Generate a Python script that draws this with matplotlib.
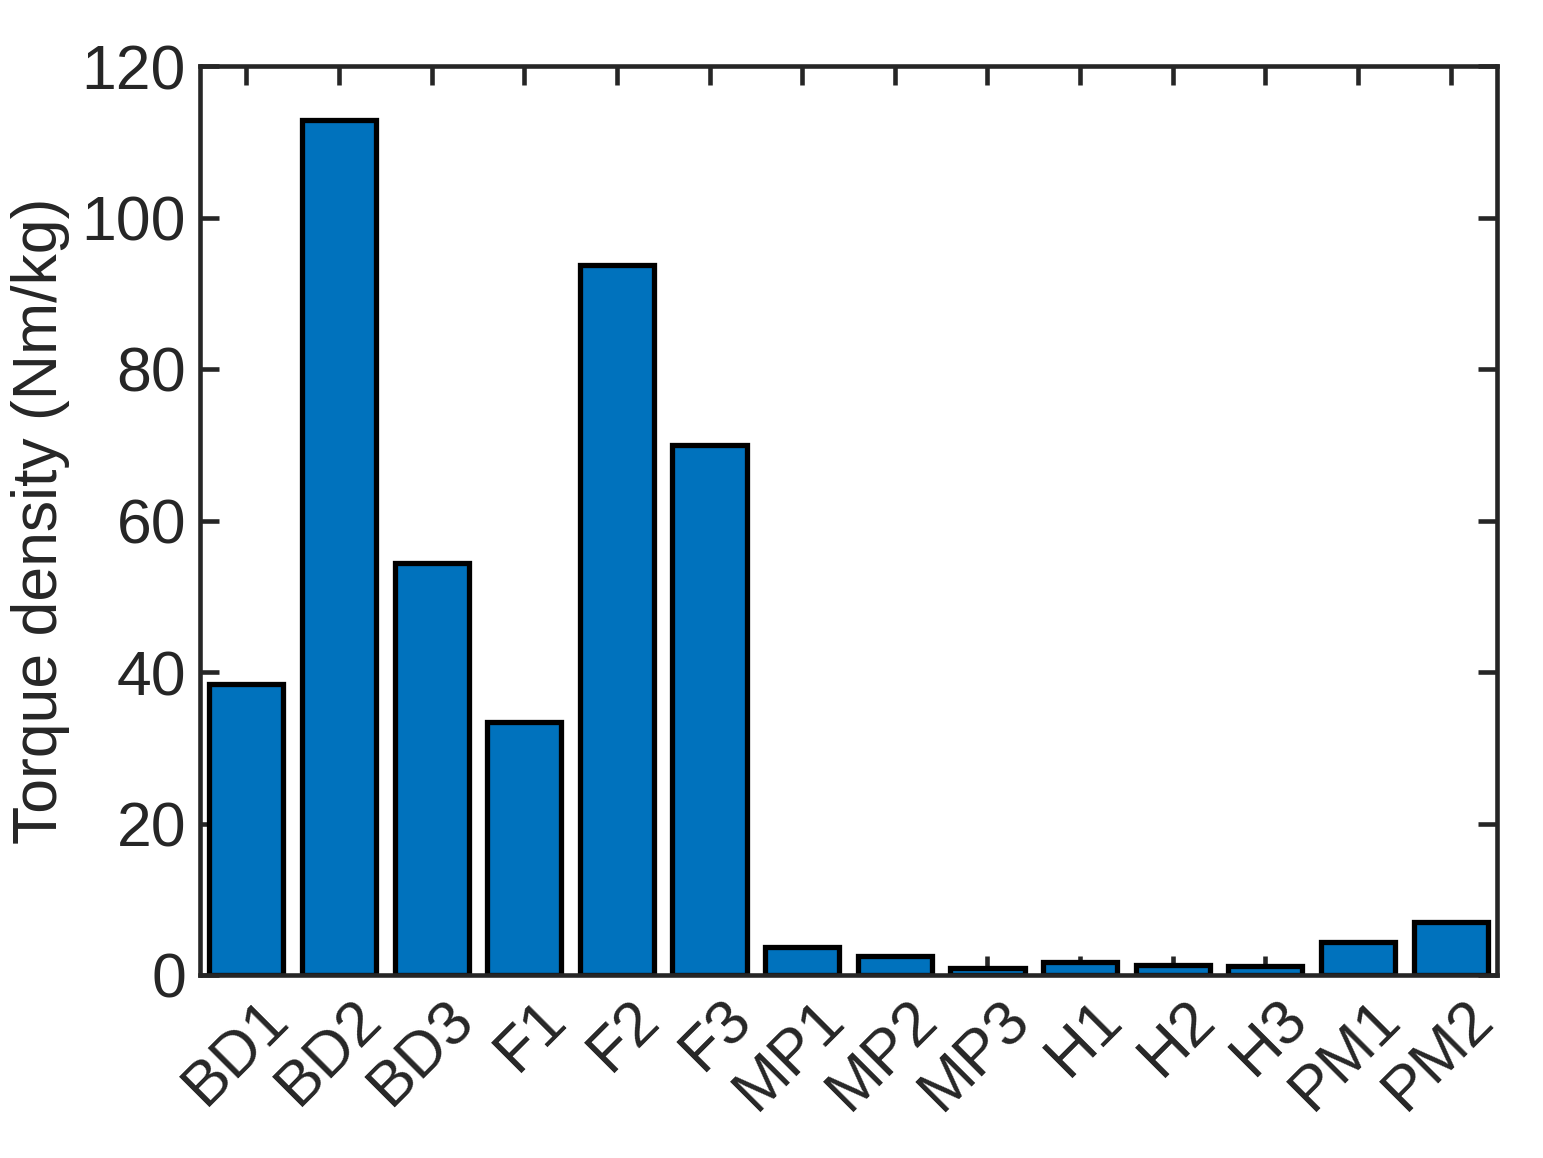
import matplotlib
matplotlib.use("Agg")
import matplotlib.pyplot as plt
import matplotlib.transforms as mtransforms

categories = ["BD1", "BD2", "BD3", "F1", "F2", "F3", "MP1", "MP2", "MP3", "H1", "H2", "H3", "PM1", "PM2"]
torque_density = [38.4, 112.9, 54.4, 33.4, 93.7, 70.0, 3.7, 2.5, 0.9, 1.7, 1.3, 1.2, 4.4, 7.0]
yticks = [0, 20, 40, 60, 80, 100, 120]

plt.rcParams['font.family'] = ['Liberation Sans', 'DejaVu Sans']
fig = plt.figure(figsize=(15.43, 11.58), dpi=100)
ax = fig.add_axes([200/1543, 1 - 975/1158, (1497-200)/1543, (975-66)/1158])

x = list(range(len(categories)))
ax.bar(x, torque_density, width=0.8, color='#0072BD', edgecolor='black', linewidth=3.8, zorder=2)

ax.set_xlim(-0.5, len(categories) - 0.5)
ax.set_ylim(0, 120)
ax.set_yticks(yticks)
ax.set_xticks(x)
ax.set_xticklabels(categories, rotation=45, ha='right', rotation_mode='anchor')
ax.tick_params(axis='both', which='both', direction='in', top=True, right=True,
               length=14, width=3.3, colors='#262626', labelsize=45, labelcolor='#262626', pad=10)
ax.tick_params(axis='x', pad=10)
offset = mtransforms.ScaledTranslation(12/100, 0, fig.dpi_scale_trans)
for lbl in ax.get_xticklabels():
    lbl.set_transform(lbl.get_transform() + offset)
for s in ax.spines.values():
    s.set_linewidth(3.3)
    s.set_color('#262626')
    s.set_zorder(3)
ax.set_ylabel('Torque density (Nm/kg)', fontsize=45, color='#262626', labelpad=8)

fig.savefig('out.png', dpi=100)
